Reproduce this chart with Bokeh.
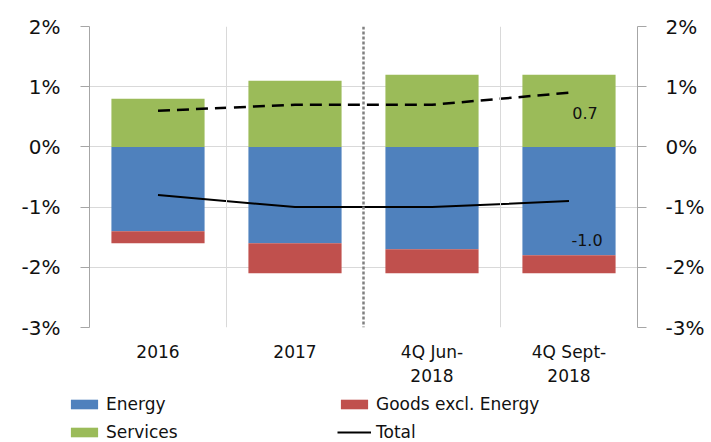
import numpy as np
from bokeh.plotting import figure
from bokeh.layouts import column
from bokeh.models import (Range1d, FactorRange, LinearAxis, CategoricalAxis, FixedTicker,
                          PrintfTickFormatter, Span, Legend, LegendItem, CustomJSTickFormatter)
from bokeh.core.properties import value
from bokeh.embed import file_html
from bokeh.resources import INLINE

# ---- data ----
categories = ["2016", "2017", "4Q Jun-2018", "4Q Sept-2018"]
label_line1 = ["2016", "2017", "4Q Jun-", "4Q Sept-"]
label_line2 = ["", "", "2018", "2018"]
energy = [-1.4, -1.6, -1.7, -1.8]
goods = [-0.2, -0.5, -0.4, -0.3]
services = [0.8, 1.1, 1.2, 1.2]
total = [-0.8, -1.0, -1.0, -0.9]
core = [0.6, 0.7, 0.7, 0.9]
y_ticks = [-3, -2, -1, 0, 1, 2]
annotations = ["0.7", "-1.0"]
legend_labels = ["Energy", "Goods excl. Energy", "Services", "Total"]

FONT = "DejaVu Sans"
TXT = "#111111"
BLUE, RED, GREEN = "#4f81bd", "#c0504d", "#9bbb59"
GRID = "#d9d9d9"
AXIS = "#a6a6a6"

p = figure(width=711, height=384, x_range=FactorRange(*categories), y_range=Range1d(-3, 2),
           output_backend="svg", toolbar_location=None,
           x_axis_location=None, y_axis_location=None,
           min_border_left=89, min_border_right=74, min_border_top=26, min_border_bottom=57)
p.outline_line_color = None
p.background_fill_color = "white"
p.border_fill_color = "white"
p.frame_align = False

# grid
p.xgrid.grid_line_color = None
p.ygrid.ticker = FixedTicker(ticks=y_ticks)
p.ygrid.grid_line_color = GRID

# y axes
for side, standoff in (("left", 20), ("right", 19)):
    ax = LinearAxis(ticker=FixedTicker(ticks=y_ticks), formatter=PrintfTickFormatter(format="%d%%"),
                    axis_line_color=AXIS, major_tick_line_color=AXIS, major_tick_out=9, major_tick_in=0,
                    minor_tick_line_color=None, major_label_standoff=standoff,
                    major_label_text_font=FONT, major_label_text_font_size="20px",
                    major_label_text_color=TXT)
    p.add_layout(ax, side)

# two-line category labels via two stacked axes
def cat_formatter(labels):
    return CustomJSTickFormatter(args=dict(cats=categories, labs=labels),
                                 code="const i = cats.indexOf(tick); return i >= 0 ? labs[i] : '';")

for labels, standoff in ((label_line1, 14), (label_line2, 4)):
    xa = CategoricalAxis(formatter=cat_formatter(labels),
                         axis_line_color=None, major_tick_line_color=None, major_tick_out=0, major_tick_in=0,
                         major_label_standoff=standoff, major_label_text_font=FONT,
                         major_label_text_font_size="17px", major_label_text_color=TXT)
    p.add_layout(xa, "below")

# category separators
p.add_layout(Span(location=1, dimension="height", line_color=GRID, line_width=1))
p.add_layout(Span(location=3, dimension="height", line_color=GRID, line_width=1))
p.add_layout(Span(location=2, dimension="height", line_color="#808080", line_width=2.5, line_dash="3 2"))

# bars
e = np.array(energy)
g = np.array(goods)
bw = 0.68
p.vbar(x=categories, bottom=0, top=e, width=bw, fill_color=BLUE, line_color=None)
p.vbar(x=categories, bottom=e, top=e + g, width=bw, fill_color=RED, line_color=None)
p.vbar(x=categories, bottom=0, top=services, width=bw, fill_color=GREEN, line_color=None)

# lines
p.line(x=categories, y=core, line_color="black", line_width=2.5, line_dash="12 7")
p.line(x=categories, y=total, line_color="black", line_width=2)

# end labels
p.text(x=[categories[-1], categories[-1]], y=[core[-1], total[-1]], text=annotations,
       x_offset=[16, 18], y_offset=[20, 39], text_align="center", text_baseline="middle",
       text_font=value(FONT), text_font_size="16px", text_color=TXT)

# ---- legend strip below the chart ----
lf = figure(width=711, height=58, x_range=Range1d(0, 711), y_range=Range1d(0, 58),
            output_backend="svg", toolbar_location=None,
            x_axis_location=None, y_axis_location=None,
            min_border_left=0, min_border_right=0, min_border_top=0, min_border_bottom=0)
lf.outline_line_color = None
lf.xgrid.grid_line_color = None
lf.ygrid.grid_line_color = None
lf.frame_align = False
# off-screen proxies, only used for the legend swatches
lr_energy = lf.vbar(x=[-1000], top=[-1000], width=1, fill_color=BLUE, line_color=None)
lr_goods = lf.vbar(x=[-1000], top=[-1000], width=1, fill_color=RED, line_color=None)
lr_serv = lf.vbar(x=[-1000], top=[-1000], width=1, fill_color=GREEN, line_color=None)
lr_total = lf.line(x=[-1000, -999], y=[-1000, -1000], line_color="black", line_width=2)

legend = Legend(items=[LegendItem(label=lab, renderers=[r]) for lab, r in
                       zip(legend_labels, [lr_energy, lr_goods, lr_serv, lr_total])],
                orientation="horizontal", ncols=2, location=(67, 0),
                padding=0, margin=0, spacing=8, border_line_color=None, background_fill_alpha=0,
                glyph_width=34, glyph_height=12, label_standoff=5, label_width=223, label_height=20,
                label_text_font=FONT, label_text_font_size="17px", label_text_color=TXT)
lf.add_layout(legend)

layout = column(p, lf, spacing=0)
open("out.html", "w").write(file_html(layout, INLINE))
